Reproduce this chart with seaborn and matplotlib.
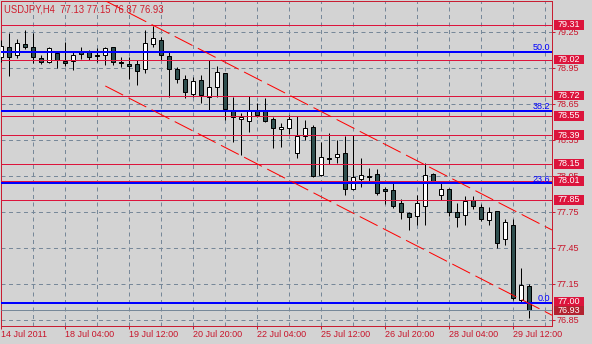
import matplotlib
matplotlib.use("Agg")
import matplotlib.pyplot as plt
import matplotlib.transforms as mtransforms
from matplotlib.patches import Rectangle
import numpy as np
import pandas as pd
import seaborn as sns

# ---------------- data ----------------
opens = [79.044, 79.122, 79.056, 79.150, 79.122, 79.030, 78.997, 79.072, 79.008, 79.006,
         79.081, 79.081, 79.058, 79.056, 79.122, 78.998, 78.983, 78.981, 78.939, 79.147,
         79.181, 79.047, 78.942, 78.858, 78.736, 78.850, 78.711, 78.794, 78.906, 78.600,
         78.522, 78.511, 78.594, 78.592, 78.522, 78.440, 78.447, 78.239, 78.383, 78.456,
         78.058, 78.200, 78.206, 78.239, 77.942, 78.028, 78.047, 78.064, 77.940, 77.933,
         77.822, 77.739, 77.719, 77.803, 78.064, 77.889, 77.942, 77.747, 77.722, 77.850,
         77.794, 77.681, 77.756, 77.525, 77.642, 77.017, 77.130]
highs = [79.180, 79.239, 79.190, 79.267, 79.239, 79.058, 79.125, 79.086, 79.167, 79.086,
         79.122, 79.100, 79.114, 79.128, 79.128, 79.044, 79.044, 79.017, 79.267, 79.300,
         79.210, 79.086, 78.961, 78.892, 78.878, 78.892, 79.017, 78.967, 78.910, 78.711,
         78.572, 78.717, 78.656, 78.697, 78.544, 78.489, 78.558, 78.550, 78.517, 78.475,
         78.336, 78.406, 78.350, 78.383, 78.392, 78.197, 78.114, 78.106, 77.956, 78.011,
         77.856, 77.750, 77.892, 78.156, 78.072, 78.003, 77.953, 77.828, 77.883, 77.883,
         77.814, 77.794, 77.760, 77.690, 77.690, 77.280, 77.150]
lows = [79.000, 78.883, 79.030, 79.110, 78.990, 78.980, 78.990, 78.947, 78.970, 78.933,
        79.022, 79.017, 79.000, 78.975, 78.975, 78.961, 78.858, 78.811, 78.906, 79.128,
        79.017, 78.706, 78.822, 78.697, 78.706, 78.656, 78.600, 78.711, 78.517, 78.336,
        78.225, 78.420, 78.540, 78.500, 78.280, 78.289, 78.400, 78.197, 78.350, 78.044,
        78.050, 78.150, 78.156, 77.892, 77.933, 77.956, 77.994, 77.892, 77.817, 77.781,
        77.689, 77.600, 77.642, 77.642, 77.989, 77.850, 77.717, 77.622, 77.642, 77.772,
        77.678, 77.642, 77.447, 77.475, 77.017, 76.994, 76.870]
closes = [79.133, 79.044, 79.156, 79.128, 79.044, 79.000, 79.114, 79.017, 78.994, 79.056,
          79.064, 79.044, 79.047, 79.114, 79.003, 78.995, 78.969, 78.922, 79.156, 79.197,
          79.056, 78.944, 78.861, 78.747, 78.842, 78.722, 78.789, 78.917, 78.606, 78.539,
          78.544, 78.600, 78.560, 78.510, 78.447, 78.456, 78.522, 78.383, 78.447, 78.053,
          78.206, 78.195, 78.233, 77.939, 78.039, 78.056, 78.043, 77.911, 77.928, 77.803,
          77.747, 77.706, 77.822, 78.056, 78.011, 77.944, 77.753, 77.706, 77.842, 77.803,
          77.689, 77.747, 77.494, 77.667, 77.030, 77.142, 76.930]

xtick_bars = [0, 8, 16, 24, 32, 40, 48, 56, 64]
xtick_labels = ["14 Jul 2011", "18 Jul 04:00", "19 Jul 12:00", "20 Jul 20:00",
                "22 Jul 04:00", "25 Jul 12:00", "26 Jul 20:00", "28 Jul 04:00",
                "29 Jul 12:00"]
xgrid_bars = [4, 12, 20, 28, 36, 44, 52, 60, 68]
ytick_values = [79.25, 78.95, 78.65, 78.35, 78.05, 77.75, 77.45, 77.15, 76.85]
ytick_labels = ["79.25", "78.95", "78.65", "78.35", "78.05", "77.75", "77.45", "77.15", "76.85"]

level_prices = [79.31, 79.02, 78.72, 78.55, 78.39, 78.15, 78.01, 77.85, 77.00]
level_labels = ["79.31", "79.02", "78.72", "78.55", "78.39", "78.15", "78.01", "77.85", "77.00"]
fib_prices = [79.085, 78.594, 77.99, 76.995]
fib_labels = ["50.0", "38.2", "23.6", "0.0"]
bid_price = 76.93
bid_label = "76.93"

channel_bars = [13.0, 68.84]
channel_upper = [79.51, 77.60]
channel_lower = [78.80, 76.89]

title_text = "USDJPY,H4  77.13 77.15 76.87 76.93"

# ---------------- style ----------------
BG = "#d3d3d3"
FRAME = "#c81e32"
TXT = "#c8142a"
GRID = "#778899"

sns.set_theme(style="white", rc={"axes.facecolor": BG, "figure.facecolor": BG})
plt.rcParams["font.family"] = ["Liberation Sans", "DejaVu Sans"]

W, H = 592, 344
DPI = 72
fig = plt.figure(figsize=(W / DPI, H / DPI), dpi=DPI, facecolor=BG)
ax = fig.add_axes([1 / W, 18 / H, 551 / W, 325 / H])
ax.set_facecolor(BG)

n = len(opens)
xs = np.arange(n)
df = pd.DataFrame({"bar": xs, "open": opens, "high": highs, "low": lows, "close": closes})

ax.set_xlim(-0.04, 68.84)
ax.set_ylim(76.80, 79.508)

# grid
dash_grid = (0, (4, 3.5))
ax.set_xticks(xtick_bars)
ax.set_xticks(xgrid_bars, minor=True)
ax.set_xticklabels(xtick_labels)
ax.set_yticks(ytick_values)
ax.set_yticklabels(ytick_labels)
ax.grid(True, which="both", axis="x", color=GRID, linestyle=dash_grid, linewidth=1, zorder=0)
ax.grid(True, which="major", axis="y", color=GRID, linestyle=dash_grid, linewidth=1, zorder=0)
ax.set_axisbelow(True)

# candles
up = df["close"] >= df["open"]
colors = np.where(up, "#ffffff", "#2f4f4f")
ax.vlines(df["bar"], df["low"], df["high"], color="black", linewidth=1, zorder=3)
ax.bar(df["bar"], (df["close"] - df["open"]).abs().clip(lower=0.002),
       bottom=df[["open", "close"]].min(axis=1), width=0.5,
       color=colors, edgecolor="black", linewidth=1, zorder=4)

# horizontal level lines
ax.hlines(level_prices, -0.04, 68.84, color="#dc143c", linewidth=1, zorder=5)
ax.hlines([bid_price], -0.04, 68.84, color=GRID, linewidth=1, zorder=5)
ax.hlines(fib_prices, -0.04, 68.84, color="#0000ff", linewidth=2, zorder=6)

# channel lines
for ys in (channel_upper, channel_lower):
    sns.lineplot(x=channel_bars, y=ys, ax=ax, color="#ff0000", linewidth=1, zorder=6)
    ax.lines[-1].set_linestyle((0, (20, 6)))

# fib labels
trans = mtransforms.blended_transform_factory(ax.transAxes, ax.transData)
for p, lab in zip(fib_prices, fib_labels):
    ax.text(0.9964, p + 1.6 / 120, lab, transform=trans, ha="right", va="baseline",
            color="#0000ff", fontsize=9, zorder=7)

# right-side price boxes
box_h = 9.6 / 120
for p, lab, fc in list(zip(level_prices, level_labels, ["#dc143c"] * len(level_prices))) + [(bid_price, bid_label, "#b22230")]:
    r = Rectangle((1.0036, p - box_h / 2), 0.0545, box_h, transform=trans,
                  facecolor=fc, edgecolor="none", clip_on=False, zorder=8)
    ax.add_patch(r)
    ax.text(1.0036 + 0.0545 / 2, p, lab, transform=trans, ha="center", va="center",
            color="white", fontsize=9, zorder=9, clip_on=False)

# axes styling
for s in ax.spines.values():
    s.set_color(FRAME)
    s.set_linewidth(1)
    s.set_visible(True)
ax.yaxis.tick_right()
ax.tick_params(axis="y", which="both", left=False, right=True, length=3, width=1,
               color=FRAME, labelcolor=TXT, labelsize=9, pad=2)
ax.tick_params(axis="x", which="major", bottom=True, length=3, width=1, color=FRAME,
               labelcolor=TXT, labelsize=9, pad=1)
ax.tick_params(axis="x", which="minor", bottom=False, length=0)
for lbl in ax.get_xticklabels():
    lbl.set_ha("left")
ax.set_xlabel("")
ax.set_ylabel("")
if ax.get_legend() is not None:
    ax.get_legend().remove()

fig.text(4.5 / W, 1 - 12.7 / H, title_text, ha="left", va="baseline",
         color="#d01c2c", fontsize=9.5)

fig.savefig("out.png", dpi=DPI, facecolor=BG)
